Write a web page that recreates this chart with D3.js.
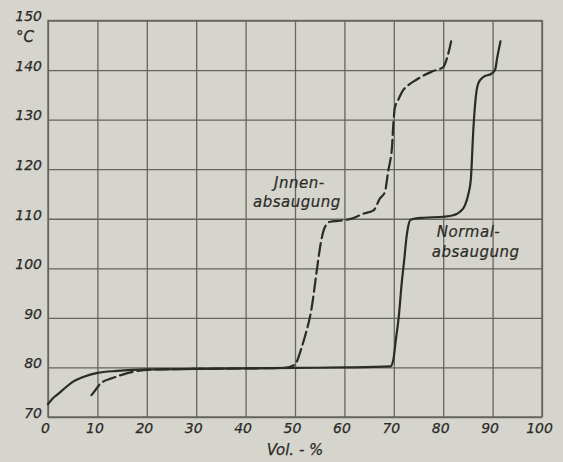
<!DOCTYPE html>
<html>
<head>
<meta charset="utf-8">
<script src="https://cdn.jsdelivr.net/npm/d3@7"></script>
<style>
  html, body { margin: 0; padding: 0; background: #d6d5cd; }
  svg { display: block; }
</style>
</head>
<body>
<svg id="chart" width="563" height="462"></svg>
<script>
// ---- data ----
const xTicks = [0, 10, 20, 30, 40, 50, 60, 70, 80, 90, 100];
const yTicks = [70, 80, 90, 100, 110, 120, 130, 140, 150];

const normalVol  = [0, 1, 2, 3.5, 5, 7, 10, 14, 20, 30, 40, 50, 60, 69.3, 69.9, 70.4, 71.0, 71.6, 72.1, 72.6, 72.9, 73.4, 76, 80, 82, 83.4, 84.4, 85.1, 85.6, 86.1, 86.6, 87.1, 88.1, 89.8, 90.5, 90.9, 91.6];
const normalTemp = [72.6, 73.8, 74.6, 75.9, 77.1, 78.0, 78.9, 79.3, 79.6, 79.7, 79.8, 79.9, 80.0, 80.2, 81.5, 85.5, 90.2, 97.0, 101.6, 106.5, 108.4, 109.8, 110.2, 110.4, 110.7, 111.4, 112.7, 115.0, 118.0, 128.0, 134.6, 137.3, 138.6, 139.3, 140.0, 142.3, 145.8];

const innenVol  = [8.8, 9.5, 10.5, 11.1, 12.9, 15.9, 18.2, 22, 30, 40, 48, 50, 51.3, 52, 53.4, 54.2, 54.7, 55.2, 56, 57.1, 59.1, 62, 63.5, 65.9, 67.2, 68.2, 68.9, 69.3, 69.6, 69.9, 70.2, 70.9, 71.8, 73, 74.5, 76, 78, 80, 80.8, 81.2, 81.6];
const innenTemp = [74.4, 75.3, 76.6, 77.1, 77.8, 78.8, 79.3, 79.6, 79.7, 79.8, 79.9, 80.6, 83.9, 86.2, 92.2, 98.0, 101.7, 105.0, 108.2, 109.4, 109.6, 110.2, 110.9, 111.7, 114.1, 115.4, 119.8, 121.8, 124.0, 129.0, 132.3, 134.0, 135.8, 137.0, 138.0, 138.9, 139.8, 140.6, 142.5, 144.0, 145.8];

const curveLabels = [
  { lines: ["Jnnen-", "absaugung"], vol: 41.5, temp: 116.3, offsets: [[21, 0], [0, 19]] },
  { lines: ["Normal-", "absaugung"], vol: 78.5, temp: 106.3, offsets: [[1, 0], [-4, 20]] }
];

// ---- chart ----
const svg = d3.select("#chart");
const bg = "#d6d5cd";
const gridColor = "#66665f";
const inkColor = "#2b2b28";
const textColor = "#2a2a27";
const font = "'DejaVu Sans', sans-serif";

svg.append("rect").attr("width", 563).attr("height", 462).attr("fill", bg);

const x = d3.scaleLinear().domain([0, 100]).range([48, 542]);
const y = d3.scaleLinear().domain([70, 150]).range([417, 20.5]);

const plotW = x(100) - x(0);
const plotH = y(70) - y(150);

// vertical grid + x labels
const gx = svg.append("g")
  .attr("transform", `translate(0,${y(70)})`)
  .call(d3.axisBottom(x).tickValues(xTicks).tickSize(-plotH).tickPadding(6).tickFormat(d3.format("d")));
gx.select(".domain").remove();
gx.selectAll(".tick line").attr("stroke", gridColor).attr("stroke-width", 1.3);
gx.selectAll(".tick text")
  .attr("fill", textColor).attr("font-family", font).attr("font-style", "italic")
  .attr("font-size", 14).attr("dx", -3).attr("stroke", textColor).attr("stroke-width", 0.25);

// horizontal grid + y labels
const gy = svg.append("g")
  .attr("transform", `translate(${x(0)},0)`)
  .call(d3.axisLeft(y).tickValues(yTicks).tickSize(-plotW).tickPadding(6).tickFormat(d3.format("d")));
gy.select(".domain").remove();
gy.selectAll(".tick line").attr("stroke", gridColor).attr("stroke-width", 1.3);
gy.selectAll(".tick text")
  .attr("fill", textColor).attr("font-family", font).attr("font-style", "italic")
  .attr("font-size", 14).attr("dy", "0.02em").attr("stroke", textColor).attr("stroke-width", 0.25);

// frame
svg.append("rect")
  .attr("x", x(0)).attr("y", y(150)).attr("width", plotW).attr("height", plotH)
  .attr("fill", "none").attr("stroke", gridColor).attr("stroke-width", 1.4);

// unit label
svg.append("text")
  .attr("x", 34).attr("y", 42).attr("text-anchor", "end")
  .attr("font-family", font).attr("font-style", "italic").attr("font-size", 15)
  .attr("fill", textColor).attr("stroke", textColor).attr("stroke-width", 0.25).text("°C");

// x axis title
svg.append("text")
  .attr("x", x(50)).attr("y", 455).attr("text-anchor", "middle")
  .attr("font-family", font).attr("font-style", "italic").attr("font-size", 15)
  .attr("fill", textColor).attr("stroke", textColor).attr("stroke-width", 0.25).text("Vol. - %");

// curves
const line = d3.line().x(d => x(d[0])).y(d => y(d[1])).curve(d3.curveMonotoneX);

svg.append("path")
  .datum(normalVol.map((v, i) => [v, normalTemp[i]]))
  .attr("d", line).attr("fill", "none")
  .attr("stroke", inkColor).attr("stroke-width", 2.2)
  .attr("stroke-linecap", "round").attr("stroke-linejoin", "round");

svg.append("path")
  .datum(innenVol.map((v, i) => [v, innenTemp[i]]))
  .attr("d", line).attr("fill", "none")
  .attr("stroke", inkColor).attr("stroke-width", 2.2)
  .attr("stroke-dasharray", "13,5")
  .attr("stroke-linecap", "round");

// curve labels
curveLabels.forEach(lab => {
  const t = svg.append("text")
    .attr("font-family", font).attr("font-style", "italic").attr("font-size", 15)
    .attr("letter-spacing", 0.5).attr("fill", textColor)
    .attr("stroke", textColor).attr("stroke-width", 0.2);
  lab.lines.forEach((s, i) => {
    t.append("tspan")
      .attr("x", x(lab.vol) + lab.offsets[i][0])
      .attr("y", y(lab.temp) + lab.offsets[i][1])
      .text(s);
  });
});
</script>
</body>
</html>
